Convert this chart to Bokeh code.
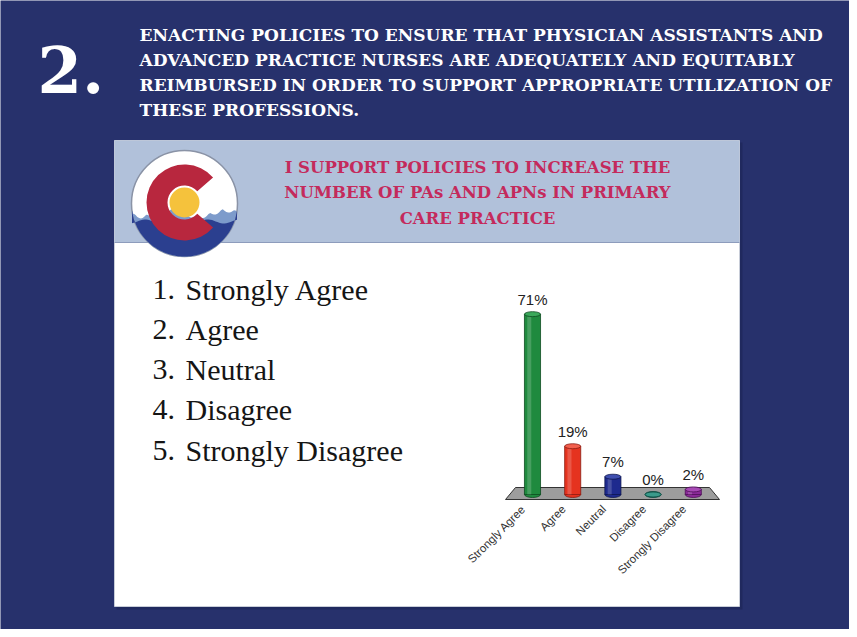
import numpy as np
from bokeh.plotting import figure
from bokeh.models import Range1d
from bokeh.core.properties import value
from bokeh.embed import file_html
from bokeh.resources import INLINE

# ---------------- data ----------------
categories = ["Strongly Agree", "Agree", "Neutral", "Disagree", "Strongly Disagree"]
percent = [71, 19, 7, 0, 2]
value_labels = ["71%", "19%", "7%", "0%", "2%"]
list_numbers = ["1.", "2.", "3.", "4.", "5."]
bar_colors = ["#1f8a3e", "#e5331f", "#1e2a8e", "#1d7a6c", "#8a2a98"]
cap_colors = ["#3aa85a", "#f2604e", "#3f4fb0", "#3a9a8a", "#a84ab6"]
edge_colors = ["#0d4a1f", "#8a1a10", "#0d154f", "#0d4a40", "#4d0f57"]

title_number = "2."
title_lines = [
    "ENACTING POLICIES TO ENSURE THAT PHYSICIAN ASSISTANTS AND",
    "ADVANCED PRACTICE NURSES ARE ADEQUATELY AND EQUITABLY",
    "REIMBURSED  IN ORDER TO SUPPORT APPROPRIATE UTILIZATION OF",
    "THESE PROFESSIONS.",
]
header_lines = [
    "I SUPPORT POLICIES TO INCREASE THE",
    "NUMBER OF PAs AND APNs IN PRIMARY",
    "CARE PRACTICE",
]

NAVY = "#27316c"

# page figure: main ranges are page pixels (y downwards)
p = figure(width=849, height=629,
           x_range=Range1d(8, 857), y_range=Range1d(637, 8),
           output_backend="svg", toolbar_location=None,
           x_axis_location=None, y_axis_location=None,
           min_border=0, outline_line_color=None,
           background_fill_color=NAVY, border_fill_color=NAVY)
p.grid.visible = False

# ranges for the bar chart (index / percent)
p.extra_x_ranges = {"bars": Range1d(-13.234, 7.886)}
p.extra_y_ranges = {"pct": Range1d(-53.15, 194.49)}

# ---------------- headline ----------------
p.text(x=[45], y=[77], text=[title_number], text_color="white",
       text_font=value("DejaVu Serif"), text_font_style="bold",
       text_font_size="64px", text_baseline="middle", text_align="left")
p.text(x=[147] * 4, y=[42, 67, 92, 117], text=title_lines, text_color="white",
       text_font=value("DejaVu Serif"), text_font_style="bold", text_font_size="17px",
       text_baseline="middle", text_align="left")

# ---------------- panel ----------------
p.quad(left=[124], right=[750], top=[150], bottom=[617], fill_color="#1a2250",
       line_color=None, alpha=0.5)
p.quad(left=[122], right=[747], top=[148], bottom=[614], fill_color="white",
       line_color="#c8cdd8", line_width=1)
p.quad(left=[122], right=[747], top=[148], bottom=[250], fill_color="#b1c1da",
       line_color=None)
p.segment(x0=[122], y0=[250], x1=[747], y1=[250], line_color="#8d9cbc", line_width=1)

# logo
cx, cy, r = 192, 211, 53
p.circle(x=[cx], y=[cy], radius=r, fill_color="white", line_color="#8a93a6", line_width=1.5)
xs = np.linspace(cx - r + 0.5, cx + r - 0.5, 60)
half = np.sqrt(np.maximum(r ** 2 - (xs - cx) ** 2, 0))
peaks = 219 + 4 * np.abs(np.sin((xs - cx) / 4.0)) + 3 * np.sin((xs - cx) / 9.0)
top_l = np.maximum(peaks, cy - half)
p.patch(x=np.r_[xs, xs[::-1]], y=np.r_[top_l, (cy + half)[::-1]],
        fill_color="#7d9bcb", line_color=None)
water = np.maximum(229 + 2 * np.sin((xs - cx) / 5.0), cy - half)
p.patch(x=np.r_[xs, xs[::-1]], y=np.r_[water, (cy + half)[::-1]],
        fill_color="#2b3f8f", line_color=None)
p.annular_wedge(x=[cx], y=[cy - 1], inner_radius=17, outer_radius=38,
                start_angle=0.72, end_angle=2 * np.pi - 0.72,
                fill_color="#b8273e", line_color=None)
p.circle(x=[cx], y=[cy - 1], radius=15, fill_color="#f5c23c", line_color=None)

# header text
p.text(x=[485] * 3, y=[175, 200, 226], text=header_lines, text_color="#c42a5c",
       text_font=value("DejaVu Serif"), text_font_style="bold",
       text_font_size="16.5px", text_baseline="middle", text_align="center")

# answer list
ly = [297, 337, 377, 417, 458]
p.text(x=[160] * 5, y=ly, text=list_numbers, text_color="#151515",
       text_font=value("Liberation Serif"), text_font_size="30px",
       text_baseline="middle", text_align="left")
p.text(x=[193] * 5, y=ly, text=categories, text_color="#151515",
       text_font=value("Liberation Serif"), text_font_size="30px",
       text_baseline="middle", text_align="left")

# ---------------- bar chart ----------------
p.patch(x=[513, 523, 717, 727], y=[507, 495, 495, 507],
        fill_color="#9d9d9d", line_color="#333333", line_width=1)

idx = list(range(len(categories)))
src = dict(x=idx, top=percent, color=bar_colors, cap=cap_colors, edge=edge_colors,
           lab=value_labels, cat=categories,
           hx=[i - 0.08 for i in idx])
kw = dict(x_range_name="bars", y_range_name="pct")
p.ellipse(x="x", y=0, width=16, height=6, width_units="screen", height_units="screen",
          fill_color="color", line_color="edge", line_width=0.8, source=src, **kw)
p.vbar(x="x", top="top", bottom=0, width=0.4, fill_color="color", line_color="edge",
       line_width=0.8, source=src, **kw)
p.vbar(x="hx", top="top", bottom=0, width=0.1, fill_color="white", fill_alpha=0.18,
       line_color=None, source=src, **kw)
p.ellipse(x="x", y="top", width=16, height=5, width_units="screen", height_units="screen",
          fill_color="cap", line_color="edge", line_width=0.8, source=src, **kw)

p.text(x="x", y="top", text="lab", y_offset=-15, text_color="#222222",
       text_font=value("Liberation Sans"), text_font_size="15px",
       text_align="center", text_baseline="middle", source=src, **kw)

p.text(x="x", y=-5, text="cat", angle=np.pi / 4, x_offset=-9,
       text_color="#333333", text_font=value("Liberation Sans"), text_font_size="11.5px",
       text_align="right", text_baseline="middle", source=src, **kw)

open("out.html", "w").write(file_html(p, INLINE))
